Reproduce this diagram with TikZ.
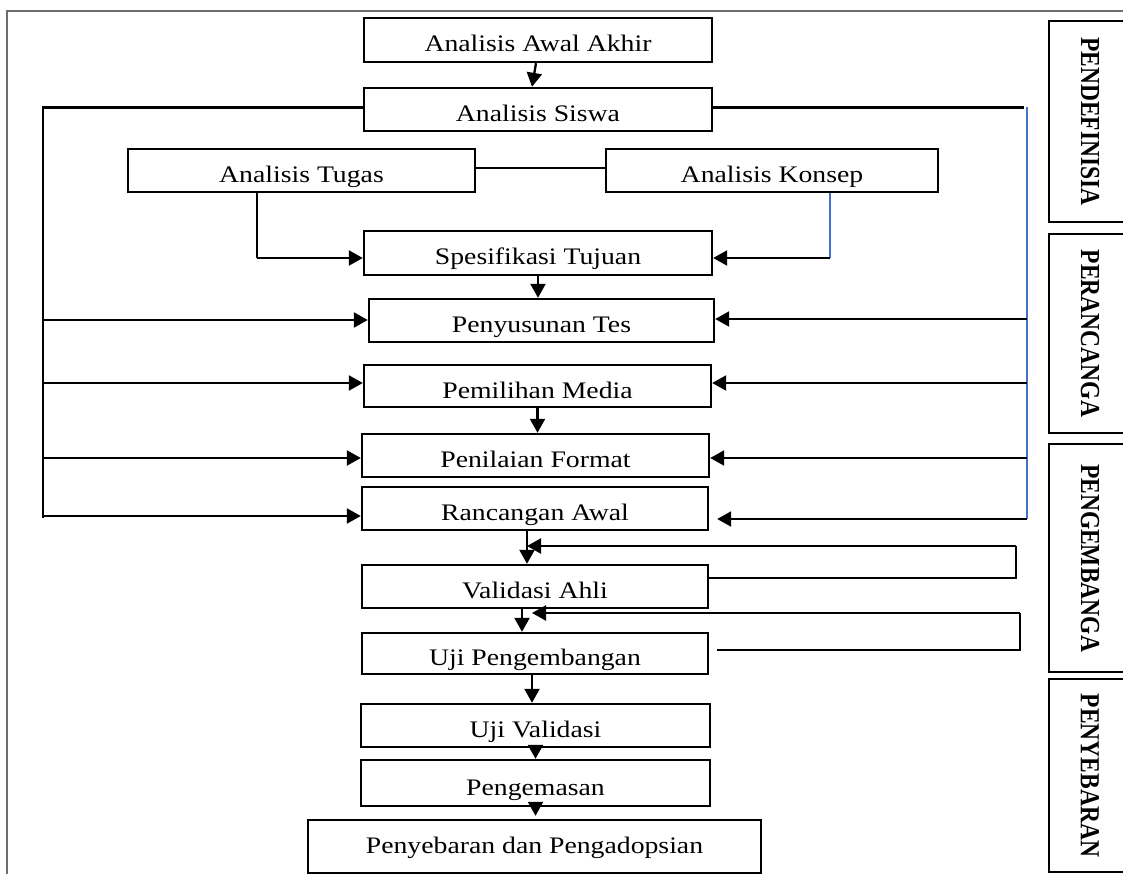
\documentclass[tikz,border=0pt]{standalone}
\usepackage{fontspec}
\setmainfont{Liberation Serif}
\usepackage{graphicx}
\usetikzlibrary{arrows.meta}
\newcommand{\sx}[1]{\scalebox{1.17}[1]{#1}}
\newcommand{\vlab}[1]{\scalebox{1.17}[1]{\rotatebox{-90}{\bfseries #1}}}
\definecolor{lineblue}{RGB}{68,114,196}
\definecolor{framegray}{RGB}{110,110,110}
\begin{document}
\begin{tikzpicture}[x=1pt,y=-1pt,
  box/.style={draw, line width=2.4pt, inner sep=0pt, text height=24pt, text depth=0pt, font=\fontsize{23.7}{28}\selectfont},
  arr/.style={line width=2.3pt, -{Triangle[length=14pt,width=15pt]}},
  ln/.style={line width=2.3pt},
  blueln/.style={line width=2.3pt, draw=lineblue},
  framel/.style={line width=1.5pt, draw=framegray},
  lab/.style={draw, line width=2.4pt, inner sep=0pt, minimum width=82pt, font=\fontsize{23.5}{28}\selectfont}
]
\clip (0,0) rectangle (1123,874);
\fill[white] (0,0) rectangle (1123,874);

% outer frame
\coordinate (fb) at (7,874);
\coordinate (fc) at (7,11);
\coordinate (fr) at (1123,11);
\draw[framel] (fb) -- (fc) -- (fr);

% main boxes
\node[box, minimum width=348pt, minimum height=44pt] (awal) at (538,40) {\sx{Analisis Awal Akhir}};
\node[box, minimum width=348pt, minimum height=43pt] (siswa) at (538,109.5) {\sx{Analisis Siswa}};
\node[box, minimum width=347pt, minimum height=43pt] (tugas) at (301.5,170.5) {\sx{Analisis Tugas}};
\node[box, minimum width=332pt, minimum height=43pt] (konsep) at (772,170.5) {\sx{Analisis Konsep}};
\node[box, minimum width=348pt, minimum height=44pt] (spes) at (538,253) {\sx{Spesifikasi Tujuan}};
\node[box, minimum width=345pt, minimum height=43pt] (susun) at (541.5,320.5) {\sx{Penyusunan Tes}};
\node[box, minimum width=347pt, minimum height=42pt] (media) at (537.5,386) {\sx{Pemilihan Media}};
\node[box, minimum width=347pt, minimum height=43pt] (format) at (535.5,455.5) {\sx{Penilaian Format}};
\node[box, minimum width=346pt, minimum height=43pt] (rancang) at (535,508.5) {\sx{Rancangan Awal}};
\node[box, minimum width=346pt, minimum height=43pt] (valid) at (535,586.5) {\sx{Validasi Ahli}};
\node[box, minimum width=346pt, minimum height=41pt] (ujip) at (535,653.5) {\sx{Uji Pengembangan}};
\node[box, minimum width=349pt, minimum height=43pt] (ujiv) at (535.5,725.5) {\sx{Uji Validasi}};
\node[box, minimum width=349pt, minimum height=46pt] (kemas) at (535.5,783) {\sx{Pengemasan}};
\node[box, minimum width=453pt, minimum height=53pt, text height=13pt] (sebar) at (534.5,846.5) {\sx{Penyebaran dan Pengadopsian}};

% phase labels
\node[lab, minimum height=201pt] (p1) at (1090,121.5) {\vlab{PENDEFINISIA}};
\node[lab, minimum height=199pt] (p2) at (1090,333.5) {\vlab{PERANCANGA}};
\node[lab, minimum height=228pt] (p3) at (1090,558) {\vlab{PENGEMBANGA}};
\node[lab, minimum height=193pt] (p4) at (1090,775.5) {\vlab{PENYEBARAN}};

% helper coordinates
\coordinate (lt) at (43,107.5);
\coordinate (lb) at (43,518);
\coordinate (rt) at (1027,107.5);
\coordinate (rb) at (1027,519);
\coordinate (tg) at (257,258);
\coordinate (kc) at (830,258);
\coordinate (vx1) at (527,530);
\coordinate (f1a) at (1016,578);
\coordinate (f1b) at (1016,546);
\coordinate (vx2) at (522,608);
\coordinate (f2a) at (1020,650);
\coordinate (f2b) at (1020,613);
\coordinate (t2) at (532,613);

% top
\draw[arr] ([xshift=-2pt]awal.south) -- ([xshift=-6pt]siswa.north);
\draw[ln] ([yshift=2pt]siswa.west) -- (lt) -- (lb);
\draw[ln] ([yshift=2pt]siswa.east) -- ([xshift=-3pt]rt);
\draw[blueln] (rt) -- (rb);
\draw[ln] ([yshift=2.5pt]tugas.east) -- ([yshift=2.5pt]konsep.west);
\draw[ln] (tugas.south -| tg) -- (tg);
\draw[arr] (tg) -- (tg -| spes.west);
\draw[blueln] (konsep.south -| kc) -- (kc);
\draw[arr] (kc) -- (kc -| spes.east);
\draw[arr] (spes.south) -- (spes.south |- susun.north);

% left feeds
\draw[arr] ([yshift=0.5pt]susun.west -| lt) -- ([yshift=0.5pt]susun.west);
\draw[arr] ([yshift=3pt]media.west -| lt) -- ([yshift=3pt]media.west);
\draw[arr] ([yshift=-2.5pt]format.west -| lt) -- ([yshift=-2.5pt]format.west);
\draw[arr] ([yshift=-7.5pt]rancang.west -| lt) -- ([yshift=-7.5pt]rancang.west);

% right feeds
\draw[arr] ([yshift=1.5pt]susun.east -| rt) -- ([yshift=1.5pt]susun.east);
\draw[arr] ([yshift=3pt]media.east -| rt) -- ([yshift=3pt]media.east);
\draw[arr] ([yshift=-2.5pt]format.east -| rt) -- ([yshift=-2.5pt]format.east);
\draw[arr] (rb) -- ([xshift=8pt,yshift=-10.5pt]rancang.east);

% middle chain
\draw[arr] (media.south) -- (media.south |- format.north);
\draw[arr] (vx1) -- (vx1 |- valid.north);
\draw[ln] ([yshift=8.5pt]valid.east) -- (f1a) -- (f1b);
\draw[arr] (f1b) -- (f1b -| vx1);
\draw[arr] (vx2) -- (vx2 |- ujip.north);
\draw[ln] ([xshift=8pt,yshift=3.5pt]ujip.east) -- (f2a) -- (f2b);
\draw[arr] (f2b) -- (t2);
\draw[arr] ([xshift=-3pt]ujip.south) -- ([xshift=-3pt]ujip.south |- ujiv.north);
\draw[arr] (ujiv.south) -- (ujiv.south |- kemas.north);
\draw[arr] (kemas.south) -- ([yshift=3pt]kemas.south |- sebar.north);
\end{tikzpicture}
\end{document}
